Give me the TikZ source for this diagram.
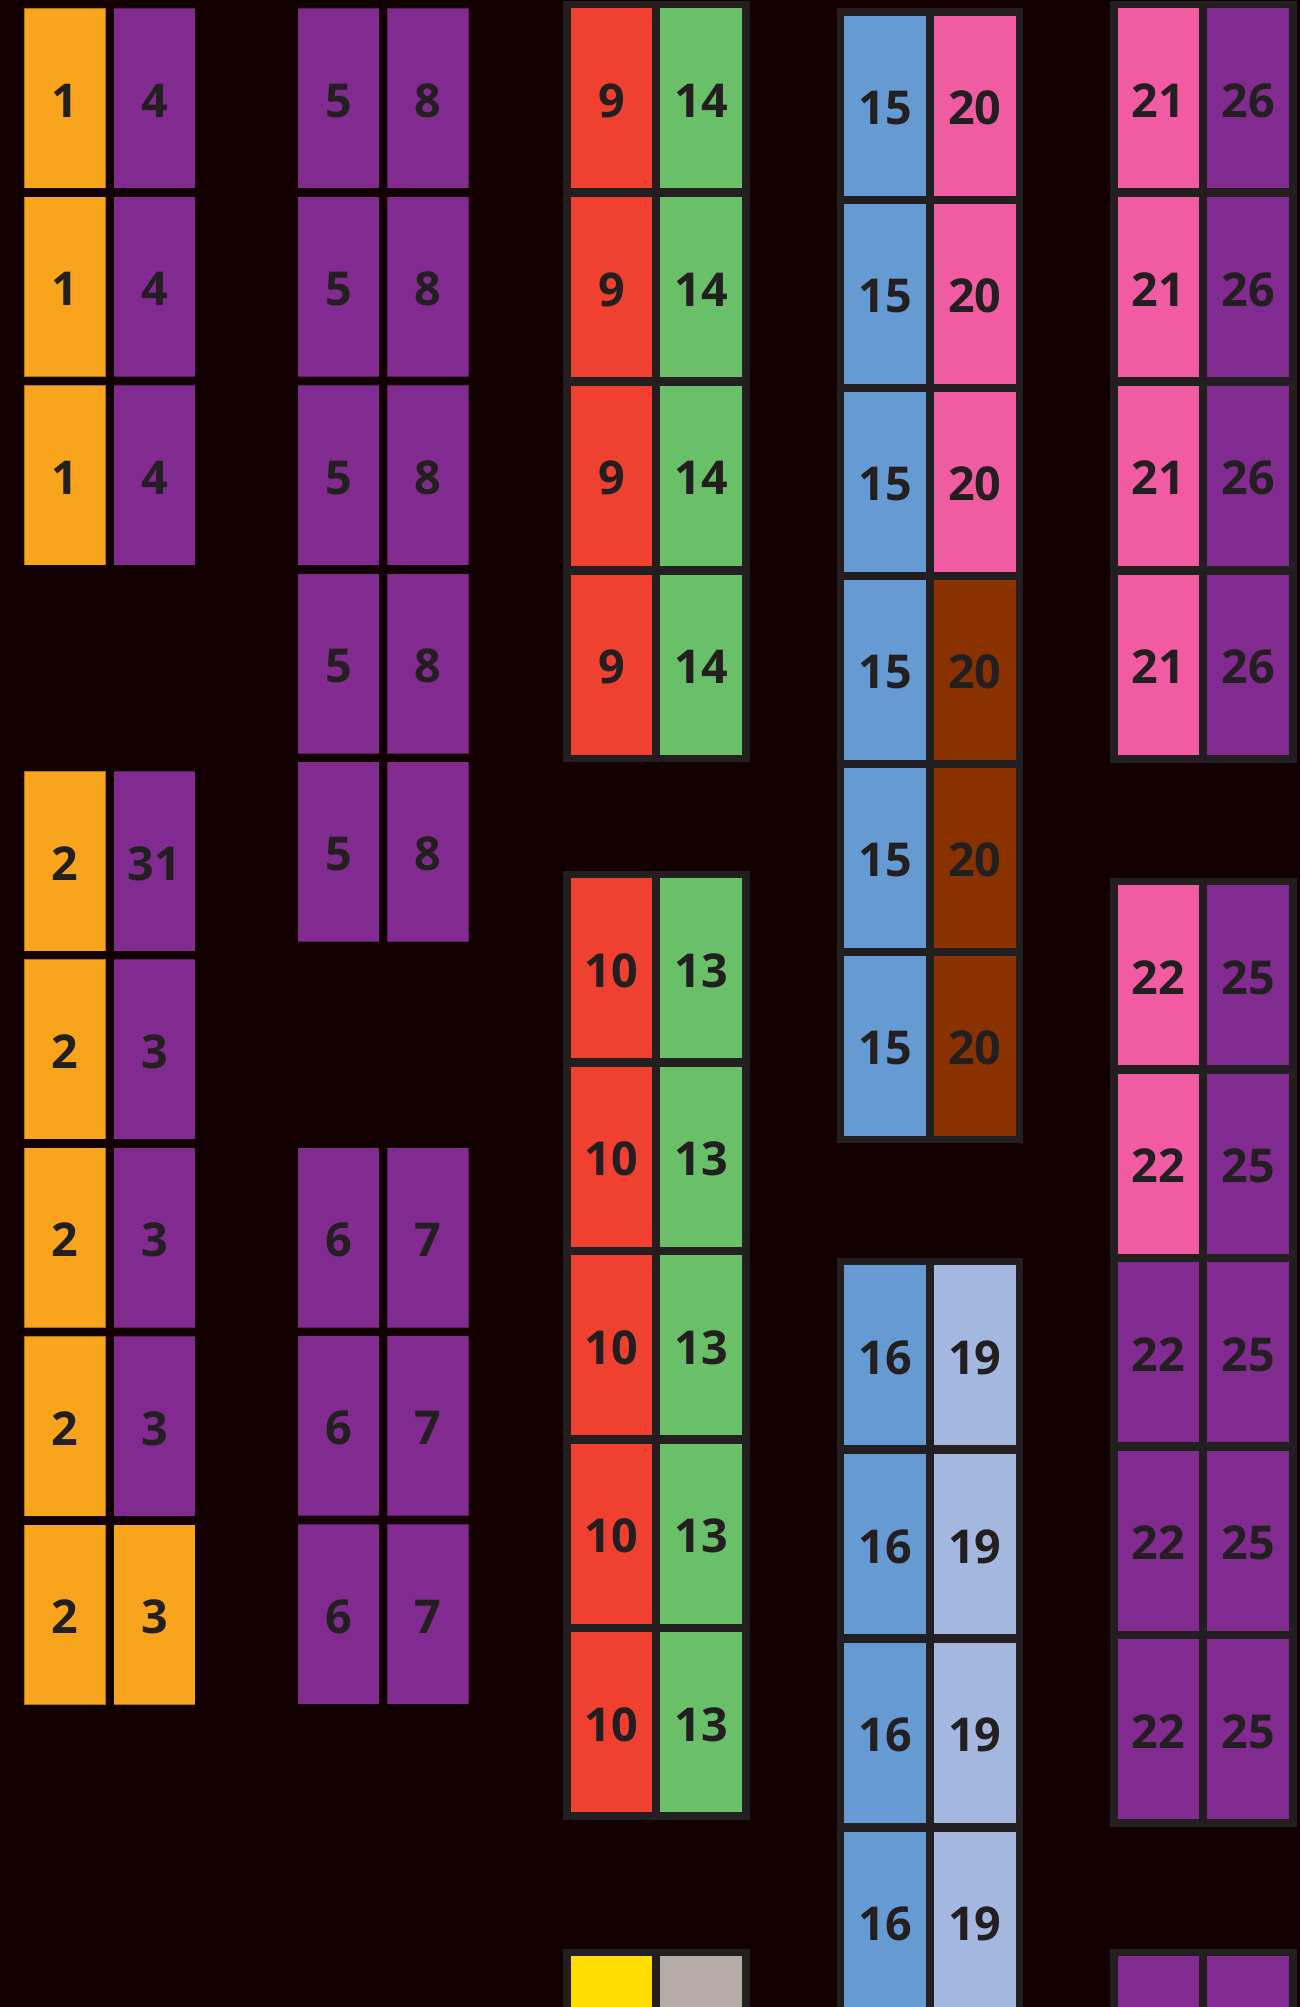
\documentclass[tikz,border=0pt]{standalone}
\usepackage{fontspec}
\setmainfont{Open Sans}
\definecolor{bgc}{HTML}{130000}
\definecolor{framec}{HTML}{231F20}
\definecolor{txtc}{HTML}{231F20}
\definecolor{orangec}{HTML}{F8A51D}
\definecolor{purplec}{HTML}{812A8F}
\definecolor{redc}{HTML}{EF4030}
\definecolor{greenc}{HTML}{6ABF69}
\definecolor{bluec}{HTML}{659AD2}
\definecolor{pinkc}{HTML}{F05BA1}
\definecolor{brownc}{HTML}{8A3100}
\definecolor{lbluec}{HTML}{A3B7DF}
\definecolor{yellowc}{HTML}{FFDD00}
\definecolor{grayc}{HTML}{B5ABA6}
\tikzset{
  seat/.style={rectangle, inner sep=0pt, outer sep=0pt, minimum width=61.2pt,
    minimum height=135pt, anchor=north west, text=txtc,
    text height=28.6pt, text depth=0pt,
    font=\fontsize{35}{40}\selectfont\bfseries},
  plainseat/.style={draw=black, draw opacity=0.3, line width=0.75pt},
  framedseat/.style={},
  framebox/.style={fill=framec}
}
\newcommand{\cellpair}[8]{%
  \node[seat,#8,fill=#4] (#1l) at (#2,#3) {#6};
  \node[seat,#8,fill=#5] (#1r) at (#2+89.6,#3) {#7};
}
\begin{document}
\begin{tikzpicture}[x=0.75pt,y=-0.75pt]
\fill[bgc] (0,0) rectangle (1300,2007);
\useasboundingbox (0,0) rectangle (1300,2007);
\clip (0,0) rectangle (1300,2007);
% column A
\foreach \i in {0,1,2} {
  \pgfmathsetmacro\yy{8.3+\i*188.4}
  \cellpair{a\i}{24}{\yy}{orangec}{purplec}{1}{4}{plainseat}
}
\cellpair{b0}{24}{771}{orangec}{purplec}{2}{31}{plainseat}
\foreach \i in {1,2,3} {
  \pgfmathsetmacro\yy{771+\i*188.4}
  \cellpair{b\i}{24}{\yy}{orangec}{purplec}{2}{3}{plainseat}
}
\cellpair{b4}{24}{1524.6}{orangec}{orangec}{2}{3}{plainseat}
% column B
\foreach \i in {0,...,4} {
  \pgfmathsetmacro\yy{8.3+\i*188.4}
  \cellpair{c\i}{297.7}{\yy}{purplec}{purplec}{5}{8}{plainseat}
}
\foreach \i in {0,1,2} {
  \pgfmathsetmacro\yy{1147.5+\i*188.4}
  \cellpair{d\i}{297.7}{\yy}{purplec}{purplec}{6}{7}{plainseat}
}
% column C
\fill[framebox] (563.2,0.8) rectangle (749.8,762.3);
\foreach \i in {0,...,3} {
  \pgfmathsetmacro\yy{8.3+\i*188.8}
  \cellpair{e\i}{570.7}{\yy}{redc}{greenc}{9}{14}{framedseat}
}
\fill[framebox] (563.2,870.5) rectangle (749.8,1819.8);
\foreach \i in {0,...,4} {
  \pgfmathsetmacro\yy{878+\i*188.6}
  \cellpair{f\i}{570.7}{\yy}{redc}{greenc}{10}{13}{framedseat}
}
\fill[framebox] (563.2,1948.5) rectangle (749.8,2100);
\cellpair{g0}{570.7}{1956}{yellowc}{grayc}{}{}{framedseat}
% column D
\fill[framebox] (836.8,8.2) rectangle (1023.2,1143.4);
\foreach \i in {0,1,2} {
  \pgfmathsetmacro\yy{15.7+\i*188.0}
  \cellpair{h\i}{844.3}{\yy}{bluec}{pinkc}{15}{20}{framedseat}
}
\foreach \i in {3,4,5} {
  \pgfmathsetmacro\yy{15.7+\i*188.0}
  \cellpair{h\i}{844.3}{\yy}{bluec}{brownc}{15}{20}{framedseat}
}
\fill[framebox] (836.8,1257.8) rectangle (1023.2,2100);
\foreach \i in {0,...,3} {
  \pgfmathsetmacro\yy{1265.4+\i*188.7}
  \cellpair{k\i}{844.3}{\yy}{bluec}{lbluec}{16}{19}{framedseat}
}
% column E
\fill[framebox] (1110.2,0.8) rectangle (1296.6,762.5);
\foreach \i in {0,...,3} {
  \pgfmathsetmacro\yy{8.3+\i*188.8}
  \cellpair{m\i}{1117.7}{\yy}{pinkc}{purplec}{21}{26}{framedseat}
}
\fill[framebox] (1110.2,877.5) rectangle (1296.6,1826.8);
\foreach \i in {0,1} {
  \pgfmathsetmacro\yy{885+\i*188.6}
  \cellpair{n\i}{1117.7}{\yy}{pinkc}{purplec}{22}{25}{framedseat}
}
\foreach \i in {2,3,4} {
  \pgfmathsetmacro\yy{885+\i*188.6}
  \cellpair{n\i}{1117.7}{\yy}{purplec}{purplec}{22}{25}{framedseat}
}
\fill[framebox] (1110.2,1948.5) rectangle (1296.6,2100);
\cellpair{p0}{1117.7}{1956}{purplec}{purplec}{}{}{framedseat}
\end{tikzpicture}
\end{document}
